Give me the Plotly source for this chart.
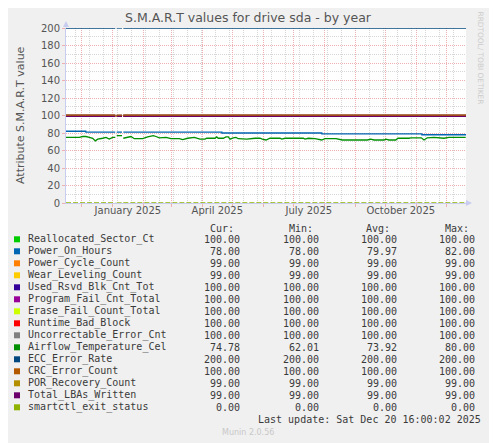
import pandas as pd
import plotly.graph_objects as go

# yearly munin window: 400 days up to the last update
start = pd.Timestamp("2024-11-15 16:00")
end = pd.Timestamp("2025-12-20 16:00")

names = ["Reallocated_Sector_Ct", "Power_On_Hours", "Power_Cycle_Count", "Wear_Leveling_Count",
         "Used_Rsvd_Blk_Cnt_Tot", "Program_Fail_Cnt_Total", "Erase_Fail_Count_Total", "Runtime_Bad_Block",
         "Uncorrectable_Error_Cnt", "Airflow_Temperature_Cel", "ECC_Error_Rate", "CRC_Error_Count",
         "POR_Recovery_Count", "Total_LBAs_Written", "smartctl_exit_status"]
colors = ["#00cc00", "#0066b3", "#ff8000", "#ffcc00", "#330099", "#990099", "#ccff00", "#ff0000",
          "#808080", "#008f00", "#00487d", "#b35a00", "#b38f00", "#6b006b", "#8fb300"]
# flat series: their level over the whole year (None = drawn from its own arrays below)
levels = [100, None, 99, 99, 100, 100, 100, 100, 100, None, 200, 100, 99, 99, 0]

cur_vals = [100, 78, 99, 99, 100, 100, 100, 100, 100, 74.78, 200, 100, 99, 99, 0]
min_vals = [100, 78, 99, 99, 100, 100, 100, 100, 100, 62.01, 200, 100, 99, 99, 0]
avg_vals = [100, 79.97, 99, 99, 100, 100, 100, 100, 100, 73.92, 200, 100, 99, 99, 0]
max_vals = [100, 82, 99, 99, 100, 100, 100, 100, 100, 80.00, 200, 100, 99, 99, 0]

# two short holes in the data in early January
seg_dates = ["2024-11-15 16:00", "2025-01-03 22:00", "2025-01-04 12:00", "2025-01-05 08:00",
             "2025-01-10 16:00", "2025-01-11 08:00", "2025-01-12 00:00", "2025-12-20 16:00"]
seg_on = [1, 1, 0, 1, 1, 0, 1, 1]

poh_dates = ["2024-11-15 16:00", "2024-12-05 12:00", "2025-01-03 22:00", "2025-01-04 12:00",
             "2025-01-05 08:00", "2025-01-10 16:00", "2025-01-11 08:00", "2025-01-12 00:00",
             "2025-04-20 12:00", "2025-07-29 12:00", "2025-11-06 12:00", "2025-12-20 16:00"]
poh_vals = [82, 81, 81, None, 81, 81, None, 81, 80, 79, 78, 78]

# temperature (days since window start)
temp_days = [0, 13.3, 16.7, 20, 23.3, 26.7, 29.3, 31.7, 36.7, 40, 43.3, 46.7, 49.3, 50, 50.7, 56, 56.6,
             57.3, 61.7, 65, 68.3, 76.7, 81.7, 87.3, 90, 93.3, 100, 105, 113.3, 116.7, 121.7, 128.3,
             134, 139, 140.7, 149, 150.7, 152.3, 157.3, 160, 162.3, 164, 167.3, 170, 172.3, 180.7,
             189, 194, 196.3, 200, 204, 214, 215.7, 219, 237.3, 239, 242.3, 249, 255.7, 259, 270,
             273, 276.3, 301.3, 304.7, 308, 318, 319.7, 323, 329.7, 332, 343, 344.7, 355.3, 358,
             361.3, 368, 378, 383, 399.7]
temp_vals = [75, 75, 76, 76, 75, 74, 71, 73, 74, 75, 73, 75, 75, None, 77, 77, None,
             74, 75, 76, 73.5, 73.5, 75.5, 77, 76, 74.5, 75, 73.5, 73.5, 72.5, 74, 75,
             73, 73, 74, 74, 75.5, 74, 74, 75.5, 75.5, 73, 74.5, 75, 73.5, 73,
             74, 74, 73, 72, 74, 74, 73, 74, 74, 73, 74, 73.5, 72, 73.5, 73.5,
             73, 72, 72, 73, 72, 72, 73, 72, 72, 74, 74, 74.5, 74.5, 72,
             74.5, 75, 74, 75, 75]

tick_dates = ["2025-01-16 12:00", "2025-04-16 00:00", "2025-07-16 12:00", "2025-10-16 12:00"]
tick_labels = ["January 2025", "April 2025", "July 2025", "October 2025"]

MONO = "DejaVu Sans Mono"
SANS = "DejaVu Sans"
TXT = "#3a3a3a"

# the page body has an 8px margin, so the figure is drawn 8px smaller and
# everything is placed in page pixels of the reference (plot area 66..466 x 28..203)
PAGE = 8


def px(x):
    return (x - 66) / 400


def py(y):
    return (203 - y) / 175


fig = go.Figure()
for i, name in enumerate(names):
    if name == "Power_On_Hours":
        xs, ys, shape = poh_dates, poh_vals, "hv"
    elif name == "Airflow_Temperature_Cel":
        xs = [start + pd.Timedelta(days=d) for d in temp_days]
        ys, shape = temp_vals, "linear"
    else:
        xs = seg_dates
        ys = [levels[i] if on else None for on in seg_on]
        shape = "hv"
    dash = "5px,2px" if name == "smartctl_exit_status" else "solid"
    fig.add_trace(go.Scatter(x=xs, y=ys, mode="lines", showlegend=False, hoverinfo="skip",
                             cliponaxis=False,
                             line=dict(color=colors[i], width=1.3, shape=shape, dash=dash)))

# empty helper trace so the label axis gets drawn
fig.add_trace(go.Scatter(x=[start, end], y=[None, None], xaxis="x2", mode="lines",
                         showlegend=False, hoverinfo="skip"))

grid_red = "#eeb0b0"
grid_grey = "#d6d6d6"
axis_col = "#c8cdf0"

fig.update_layout(
    width=497 - PAGE, height=443 - PAGE,
    margin=dict(l=66 - PAGE, r=31, t=28 - PAGE, b=240),
    paper_bgcolor="#f0f0f0", plot_bgcolor="white",
    font=dict(family=SANS, size=10, color="#555555"),
    xaxis=dict(type="date", range=[start, end], dtick="M1", tick0="2024-12-01",
               showticklabels=False, showgrid=True, gridcolor=grid_red, griddash="1px,1px",
               ticks="outside", ticklen=3, tickcolor=grid_red,
               minor=dict(dtick=14 * 86400000, tick0="2024-11-25", showgrid=True,
                          gridcolor=grid_grey, griddash="1px,1px"),
               showline=True, linecolor=axis_col, zeroline=False),
    xaxis2=dict(type="date", range=[start, end], overlaying="x", anchor="y", side="bottom",
                tickvals=tick_dates, ticktext=tick_labels, showgrid=False, ticks="",
                showline=False, zeroline=False, tickfont=dict(size=10, color="#555555")),
    yaxis=dict(range=[0, 200], dtick=20, showgrid=True, gridcolor=grid_red, griddash="1px,1px",
               ticks="outside", ticklen=3, tickcolor=grid_red,
               minor=dict(dtick=10, showgrid=True, gridcolor=grid_grey, griddash="1px,1px"),
               showline=True, linecolor=axis_col, zeroline=False,
               tickfont=dict(size=10, color="#555555")),
)

ann = []
ann.append(dict(x=px(248.5), y=py(18), text="S.M.A.R.T values for drive sda - by year",
                font=dict(size=12.5, color="#555555")))
ann.append(dict(x=px(11.5), y=py(115), text="Attribute S.M.A.R.T value", textangle=-90,
                font=dict(size=11, color="#555555")))
ann.append(dict(x=px(486), y=py(58), text="RRDTOOL/ TOBI OETIKER", textangle=90,
                font=dict(size=7.4, color="#cccccc")))
# axis arrows
ann.append(dict(x=px(66), y=py(21), ax=0, ay=8, text="", showarrow=True, arrowhead=2,
                arrowsize=1.2, arrowwidth=1, arrowcolor=axis_col))
ann.append(dict(x=px(472), y=py(203), ax=-8, ay=0, text="", showarrow=True, arrowhead=2,
                arrowsize=1.2, arrowwidth=1, arrowcolor=axis_col))

# legend table
col_right = [242, 321, 399, 477]
for head, xr in zip(["Cur:", "Min:", "Avg:", "Max:"], [236, 315, 392, 471]):
    ann.append(dict(x=px(xr), y=py(228.3), text=head, xanchor="right",
                    font=dict(family=MONO, size=10, color=TXT)))

shapes = []
for i, name in enumerate(names):
    yc = 239.3 + 12 * i
    shapes.append(dict(type="rect", xref="paper", yref="paper",
                       x0=px(14), x1=px(20), y0=py(yc + 3), y1=py(yc - 3),
                       fillcolor=colors[i], line=dict(width=0)))
    ann.append(dict(x=px(26), y=py(yc), text=name, xanchor="left",
                    font=dict(family=MONO, size=10, color=TXT)))
    for vals, xr in zip([cur_vals, min_vals, avg_vals, max_vals], col_right):
        ann.append(dict(x=px(xr), y=py(yc), text="%.2f" % vals[i], xanchor="right",
                        font=dict(family=MONO, size=10, color=TXT)))

ann.append(dict(x=px(483), y=py(419.5), text="Last update: Sat Dec 20 16:00:02 2025", xanchor="right",
                font=dict(family=MONO, size=10, color=TXT)))
ann.append(dict(x=px(248), y=py(432), text="Munin 2.0.56",
                font=dict(size=8, color="#c8c8c8")))

for a in ann:
    a.setdefault("xref", "paper")
    a.setdefault("yref", "paper")
    a.setdefault("showarrow", False)
    a.setdefault("yanchor", "middle")

fig.update_layout(annotations=ann, shapes=shapes)

fig.write_html("out.html")
